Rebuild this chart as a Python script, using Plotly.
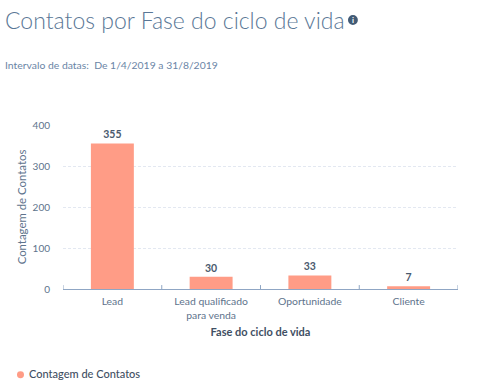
import plotly.graph_objects as go

categories = ["Lead", "Lead qualificado<br>para venda", "Oportunidade", "Cliente"]
values = [355, 30, 33, 7]
series_name = "Contagem de Contatos"
y_ticks = [0, 100, 200, 300, 400]

FONT = "Lato"
fig = go.Figure()
fig.add_trace(go.Bar(
    x=categories, y=values, name=series_name,
    marker=dict(color="#FF9C86", line=dict(width=0)),
    text=[str(v) for v in values], textposition="outside", cliponaxis=False,
    textfont=dict(family=FONT, size=10.5, color="#4A5A6E", weight=700),
))
fig.update_layout(
    width=490, height=381, margin=dict(l=63, r=32, t=125, b=92),
    paper_bgcolor="white", plot_bgcolor="white", font=dict(family=FONT, color="#5E738C"),
    bargap=0.565, showlegend=False,
    xaxis=dict(showgrid=False, showline=True, linecolor="#8FA6C4", linewidth=1,
               ticks="outside", ticklen=3, tickcolor="rgba(0,0,0,0)", tickfont=dict(size=10.4, color="#5E738C"),
               range=[-0.5, 3.5], title=dict(text="Fase do ciclo de vida", standoff=8,
               font=dict(family=FONT, size=11, color="#3F4F63", weight=700))),
    yaxis=dict(range=[0, 400], tickvals=y_ticks, gridcolor="#E3E8F1", griddash="3px,2px", gridwidth=1,
               zeroline=False, tickfont=dict(size=10, color="#5E738C"),
               ticks="outside", ticklen=10, tickcolor="rgba(0,0,0,0)",
               title=dict(text=series_name, standoff=3, font=dict(family=FONT, size=11.4, color="#5E738C"))),
)
fig.update_xaxes(tickmode="array", tickvals=list(range(4)), ticktext=categories)
for xv in [-0.5, 0.5, 1.5, 2.5, 3.5]:
    fig.add_shape(type="line", xref="x", yref="paper", x0=xv, x1=xv, y0=0, y1=0.024,
                  line=dict(color="#8FA6C4", width=1))
fig.add_annotation(text="Contatos por Fase do ciclo de vida", xref="paper", yref="paper", x=-0.1525, y=1.64,
                   xanchor="left", yanchor="middle", showarrow=False,
                   font=dict(family=FONT, size=23, color="#5A7796", weight=300))
fig.add_annotation(text="Intervalo de datas:  De 1/4/2019 a 31/8/2019", xref="paper", yref="paper", x=-0.1525, y=1.364,
                   xanchor="left", yanchor="middle", showarrow=False,
                   font=dict(family=FONT, size=10.4, color="#6A85A6"))
fig.add_shape(type="circle", xref="paper", yref="paper", x0=0.7215, x1=0.7465, y0=1.61, y1=1.67,
              fillcolor="#425B76", line=dict(width=0))
fig.add_annotation(text="<b>i</b>", xref="paper", yref="paper", x=0.734, y=1.64, xanchor="center", yanchor="middle",
                   showarrow=False, font=dict(family=FONT, size=8, color="white"))
fig.add_shape(type="circle", xref="paper", yref="paper", x0=-0.1165, x1=-0.0987, y0=-0.544, y1=-0.502,
              fillcolor="#FF9C86", line=dict(width=0))
fig.add_annotation(text=series_name, xref="paper", yref="paper", x=-0.09, y=-0.514, xanchor="left", yanchor="middle",
                   showarrow=False, font=dict(family=FONT, size=11, color="#3F4F63", weight=500))
fig.write_html("out.html", post_script="document.body.style.margin='0';", config={"displayModeBar": False})
